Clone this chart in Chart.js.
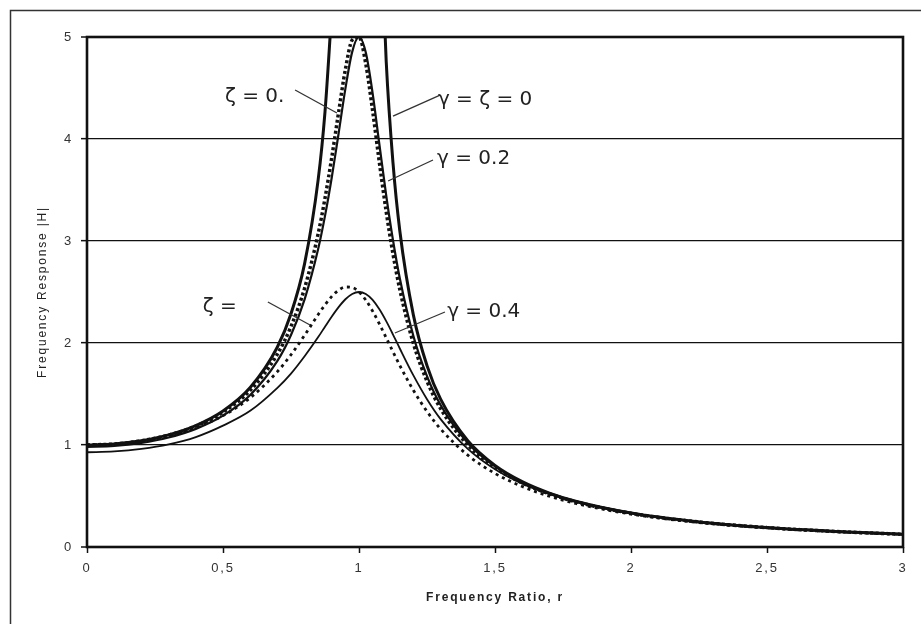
<!DOCTYPE html>
<html>
<head>
<meta charset="utf-8">
<script src="https://cdn.jsdelivr.net/npm/chart.js@4/dist/chart.umd.min.js"></script>
<style>
  html, body { margin: 0; padding: 0; background: #ffffff; overflow: hidden; }
  #frame { position: absolute; left: 0; top: 0; width: 921px; height: 624px; }
</style>
</head>
<body>
<div id="frame"><canvas id="responseChart" width="921" height="624"></canvas></div>
<script>
// frequency ratio r (x values shared by every curve)
const ratios = [0, 0.1, 0.2, 0.3, 0.4, 0.5, 0.6, 0.7, 0.75, 0.8, 0.85, 0.875, 0.9, 0.925, 0.95, 0.975,
    1.0, 1.025, 1.05, 1.075, 1.1, 1.125, 1.15, 1.2, 1.25, 1.3, 1.4, 1.5, 1.6, 1.7, 1.8, 2.0, 2.25, 2.5, 2.75, 3.0];

// gamma = zeta = 0 (undamped), both branches
const undamped = [1, 1.010, 1.042, 1.099, 1.190, 1.333, 1.563, 1.961, 2.286, 2.778, 3.604, 4.267, 5.263, null, null, null,
    null, null, null, 6.43, 4.762, 3.765, 3.101, 2.273, 1.778, 1.449, 1.042, 0.800, 0.641, 0.529, 0.446, 0.333, 0.246, 0.190, 0.152, 0.125];

// zeta = 0.1 (dotted)
const zeta01 = [1, 1.010, 1.041, 1.097, 1.185, 1.322, 1.536, 1.891, 2.162, 2.538, 3.073, 3.419, 3.821, 4.261, 4.683, 4.971,
    5.0, 4.736, 4.279, 3.768, 3.288, 2.873, 2.525, 1.995, 1.625, 1.356, 1.0, 0.778, 0.628, 0.521, 0.441, 0.330, 0.245, 0.190, 0.152, 0.125];

// gamma = 0.2 (solid)
const gamma02 = [0.981, 0.990, 1.020, 1.073, 1.158, 1.288, 1.491, 1.825, 2.079, 2.428, 2.923, 3.246, 3.625, 4.054, 4.494, 4.854,
    5.0, 4.847, 4.450, 3.946, 3.448, 3.008, 2.635, 2.069, 1.675, 1.392, 1.020, 0.790, 0.636, 0.526, 0.445, 0.333, 0.246, 0.190, 0.152, 0.125];

// zeta = 0.2 (dotted / dashed)
const zeta02 = [1, 1.009, 1.038, 1.090, 1.170, 1.288, 1.463, 1.719, 1.885, 2.076, 2.279, 2.374, 2.457, 2.518, 2.549, 2.544,
    2.5, 2.421, 2.313, 2.187, 2.051, 1.914, 1.780, 1.536, 1.329, 1.157, 0.900, 0.721, 0.593, 0.498, 0.425, 0.322, 0.240, 0.187, 0.150, 0.124];

// gamma = 0.4 (solid)
const gamma04 = [0.929, 0.937, 0.962, 1.006, 1.078, 1.190, 1.335, 1.560, 1.700, 1.870, 2.058, 2.160, 2.260, 2.352, 2.429, 2.481,
    2.5, 2.480, 2.422, 2.330, 2.214, 2.083, 1.946, 1.682, 1.449, 1.254, 0.962, 0.762, 0.621, 0.518, 0.440, 0.330, 0.245, 0.190, 0.152, 0.125];

const xTickLabels = ["0", "0,5", "1", "1,5", "2", "2,5", "3"];

// callout texts with their anchor and leader line, in data units (r, |H|)
const notes = [
    { text: "ζ = 0.",    at: [0.507, 4.41], line: [0.765, 4.48, 0.919, 4.255] },
    { text: "γ = ζ = 0", at: [1.290, 4.38], line: [1.298, 4.43, 1.125, 4.225] },
    { text: "γ = 0.2",   at: [1.287, 3.81], line: [1.272, 3.794, 1.107, 3.588] },
    { text: "ζ =",       at: [0.426, 2.353], line: [0.665, 2.402, 0.820, 2.176] },
    { text: "γ = 0.4",   at: [1.324, 2.304], line: [1.316, 2.304, 1.132, 2.098] }
];

function toPoints(values) {
    return ratios.map((r, i) => ({ x: r, y: values[i] }));
}

const framePlugin = {
    id: "frame",
    beforeDraw(chart) {
        const ctx = chart.ctx;
        ctx.save();
        ctx.fillStyle = "#ffffff";
        ctx.fillRect(0, 0, chart.width, chart.height);
        // outer chart border (cut off at right and bottom)
        ctx.strokeStyle = "#333333";
        ctx.lineWidth = 1.5;
        ctx.beginPath();
        ctx.moveTo(10.5, chart.height);
        ctx.lineTo(10.5, 10.5);
        ctx.lineTo(chart.width, 10.5);
        ctx.stroke();
        ctx.restore();
        ctx.letterSpacing = "1.8px";
    },
    afterDatasetsDraw(chart) {
        const ctx = chart.ctx;
        const a = chart.chartArea;
        const xs = chart.scales.x, ys = chart.scales.y;
        ctx.save();
        ctx.letterSpacing = "0px";
        ctx.strokeStyle = "#111111";
        ctx.lineWidth = 2.6;
        ctx.strokeRect(a.left, a.top, a.right - a.left, a.bottom - a.top);

        ctx.strokeStyle = "#333333";
        ctx.lineWidth = 1.3;
        ctx.fillStyle = "#222222";
        ctx.font = "20px 'DejaVu Sans'";
        ctx.textBaseline = "middle";
        ctx.textAlign = "left";
        notes.forEach(n => {
            const l = n.line;
            ctx.beginPath();
            ctx.moveTo(xs.getPixelForValue(l[0]), ys.getPixelForValue(l[1]));
            ctx.lineTo(xs.getPixelForValue(l[2]), ys.getPixelForValue(l[3]));
            ctx.stroke();
            ctx.fillText(n.text, xs.getPixelForValue(n.at[0]), ys.getPixelForValue(n.at[1]));
        });
        ctx.restore();
    }
};

const ctx = document.getElementById("responseChart").getContext("2d");
new Chart(ctx, {
    type: "line",
    data: {
        datasets: [
            { label: "undamped", data: toPoints(undamped), borderColor: "#111111", borderWidth: 3 },
            { label: "zeta 0.1", data: toPoints(zeta01), borderColor: "#111111", borderWidth: 3.5, borderDash: [3, 2.5] },
            { label: "gamma 0.2", data: toPoints(gamma02), borderColor: "#111111", borderWidth: 2.2 },
            { label: "zeta 0.2", data: toPoints(zeta02), borderColor: "#111111", borderWidth: 2.8, borderDash: [3, 4] },
            { label: "gamma 0.4", data: toPoints(gamma04), borderColor: "#111111", borderWidth: 1.8 }
        ]
    },
    options: {
        responsive: false,
        animation: false,
        devicePixelRatio: 1,
        parsing: false,
        spanGaps: false,
        elements: {
            point: { radius: 0 },
            line: { cubicInterpolationMode: "monotone", fill: false }
        },
        layout: { padding: { top: 37, right: 18, left: 0, bottom: 0 } },
        plugins: {
            legend: { display: false },
            tooltip: { enabled: false }
        },
        scales: {
            x: {
                type: "linear",
                min: 0,
                max: 3,
                afterFit: (scale) => { scale.height = 77; },
                afterBuildTicks: (scale) => {
                    scale.ticks = xTickLabels.map((t, i) => ({ value: i * 0.5 }));
                },
                ticks: {
                    callback: (value, index) => xTickLabels[index],
                    color: "#333333",
                    font: { family: "'Liberation Sans', Arial", size: 13 },
                    padding: 8,
                    maxRotation: 0
                },
                grid: { display: true, drawOnChartArea: false, drawTicks: true, tickLength: 6, tickColor: "#111111", tickWidth: 1.5 },
                border: { display: false },
                title: {
                    display: true,
                    text: "Frequency Ratio, r",
                    color: "#222222",
                    font: { family: "'Liberation Sans', Arial", size: 12, weight: "bold" },
                    padding: { top: 0, bottom: 19 }
                }
            },
            y: {
                min: 0,
                max: 5,
                afterFit: (scale) => { scale.width = 87; },
                ticks: {
                    stepSize: 1,
                    color: "#333333",
                    font: { family: "'Liberation Sans', Arial", size: 13 },
                    padding: 8
                },
                grid: {
                    color: "#111111",
                    lineWidth: (c) => (c.tick && (c.tick.value === 0 || c.tick.value === 5)) ? 0 : 1.3,
                    tickLength: 6,
                    tickColor: "#111111",
                    tickWidth: 1.5
                },
                border: { display: false },
                title: {
                    display: true,
                    text: "Frequency Response |H|",
                    color: "#222222",
                    font: { family: "'Liberation Sans', Arial", size: 12 },
                    padding: { top: 35, bottom: 0 }
                }
            }
        }
    },
    plugins: [framePlugin]
});
</script>
</body>
</html>
